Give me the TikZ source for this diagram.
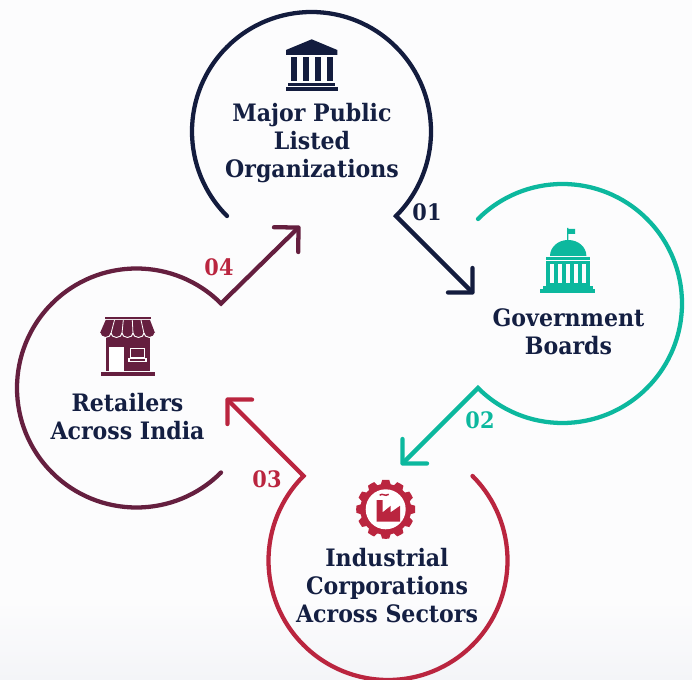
\documentclass[tikz,border=0pt]{standalone}
\usepackage{fontspec}
\usetikzlibrary{arrows.meta,shadings}
\newfontfamily\labfont[FakeStretch=0.92]{DejaVu Serif Bold}
\definecolor{navy}{HTML}{131C3E}
\definecolor{teal2}{HTML}{0CB89E}
\definecolor{red2}{HTML}{BA253F}
\definecolor{maroon2}{HTML}{651F3F}
\definecolor{txtnavy}{HTML}{141F42}
\definecolor{bgtop}{HTML}{FCFCFD}
\definecolor{bgbot}{HTML}{F4F5F8}
\tikzset{
  ring/.style={line width=3.2pt,line cap=round,line join=miter,miter limit=10,-{Straight Barb[length=13pt,width=26pt,line width=3.2pt,round=false]}},
  lab/.style={font=\labfont\fontsize{18}{21}\selectfont,text=txtnavy,align=center,inner sep=0pt},
  num/.style={font=\labfont\fontsize{17}{20}\selectfont,inner sep=0pt},
}
\begin{document}
\begin{tikzpicture}[x=0.75pt,y=0.75pt]
\useasboundingbox (0,-680) rectangle (692,0);
\fill[bgtop] (0,-680) rectangle (692,0);
\shade[top color=bgtop,bottom color=bgbot] (0,-680) rectangle (692,-600);

% anchors of the rings
\coordinate (s1) at (227,-216);
\coordinate (t1) at (474,-294);
\coordinate (s2) at (478,-219);
\coordinate (t2) at (401,-465);
\coordinate (s3) at (472.5,-476);
\coordinate (t3) at (226,-398);
\coordinate (s4) at (221,-472.5);
\coordinate (t4) at (300,-226);

\draw[ring,color=navy] (s1) arc[start angle=225,end angle=-45,radius=119.5] -- (t1);
\draw[ring,color=teal2] (s2) arc[start angle=135,end angle=-135,radius=119.5] -- (t2);
\draw[ring,color=red2] (s3) arc[start angle=45,end angle=-225,radius=119.5] -- (t3);
\draw[ring,color=maroon2] (s4) arc[start angle=-45,end angle=-315,radius=119.5] -- (t4);

% labels
\node[lab] (l1) at (312,-143) {Major Public\\Listed\\Organizations};
\node[lab] (l2) at (568.5,-331.5) {Government\\Boards};
\node[lab] (l3) at (387,-585.5) {Industrial\\Corporations\\Across Sectors};
\node[lab] (l4) at (127.5,-416.5) {Retailers\\Across India};
\node[num,text=txtnavy] (n1) at (427,-212) {01};
\node[num,text=teal2] (n2) at (480,-420) {02};
\node[num,text=red2] (n3) at (267,-479) {03};
\node[num,text=red2] (n4) at (219,-267) {04};

% temple icon
\begin{scope}[navy]
\fill (286,-50) -- (311.7,-39.3) -- (337.3,-50) -- (337.3,-55) -- (286,-55) -- cycle;
\foreach \x in {291,303,315,327} \fill (\x,-56.7) rectangle (\x+6,-80.7);
\fill (288,-82.7) rectangle (335,-86);
\fill (286,-87) rectangle (337.7,-91);
\end{scope}

% capitol icon
\begin{scope}[teal2]
\fill (567.2,-256) -- (567.2,-228) -- (568.4,-228) -- (568.4,-229) -- (575,-229) -- (575,-234) -- (568.4,-234) -- (568.4,-240) arc[start angle=90,end angle=0,x radius=18,y radius=16] -- (550,-256) arc[start angle=180,end angle=90,x radius=18,y radius=16] -- (567.2,-240) -- cycle;
\fill (545.7,-256.7) rectangle (590,-260);
\fill (545.7,-261) rectangle (590,-264.5);
\fill (545.7,-264) rectangle (550,-283);
\foreach \x in {554,562,570,578,586} \fill (\x,-264) rectangle (\x+4,-283);
\fill (545.7,-283) rectangle (590,-286);
\fill (542.7,-286) rectangle (592.7,-289);
\fill (540,-289.3) rectangle (595.3,-293);
\end{scope}

% shop icon
\begin{scope}[maroon2]
\fill (105,-316.7) rectangle (151,-319);
\fill (105.7,-334) rectangle (150,-371);
\fill[white] (109,-347.3) rectangle (124.3,-371);
\fill[white] (130,-348) rectangle (145,-358);
\fill (131.3,-349.3) rectangle (143.7,-356.7);
\fill[white] (128.3,-358) rectangle (147,-361.7);
\fill (130,-359.2) rectangle (145.3,-360.7);
\fill (101,-371.7) rectangle (155,-376);
% awning
\fill (105.7,-320) -- (150,-320) -- (155,-333) -- (100,-333) -- cycle;
\foreach \x in {100,111,122,133,144} {
  \fill[draw=white,line width=0.7pt] (\x,-333) arc[start angle=180,end angle=360,x radius=5.5,y radius=4.5];
}
\foreach \a/\b in {114.5/111,123.3/122,132.3/133,141/144}
  \draw[white,line width=0.6pt] (\a,-320) -- (\b,-333.5);
\end{scope}

% gear icon
\begin{scope}[shift={(385.7,-509.3)},red2]
\foreach \a in {0,30,...,330}
  \fill[rotate=\a] (-5.5,23) -- (-3.5,29.3) arc[start angle=97,end angle=83,radius=29] -- (5.5,23) -- cycle;
\fill circle[radius=25.5];
\fill[white] circle[radius=20];
\fill (-9,9.3) -- (-3,9.3) -- (-3,-3) -- (5,3.5) -- (5,-3) -- (14.3,3.5) -- (14.3,-12.4) -- (-9,-12.4) -- cycle;
\draw[line width=1.1pt] (-6,14) .. controls (-3,17) and (-1,12) .. (3,15);
\end{scope}
\end{tikzpicture}
\end{document}
